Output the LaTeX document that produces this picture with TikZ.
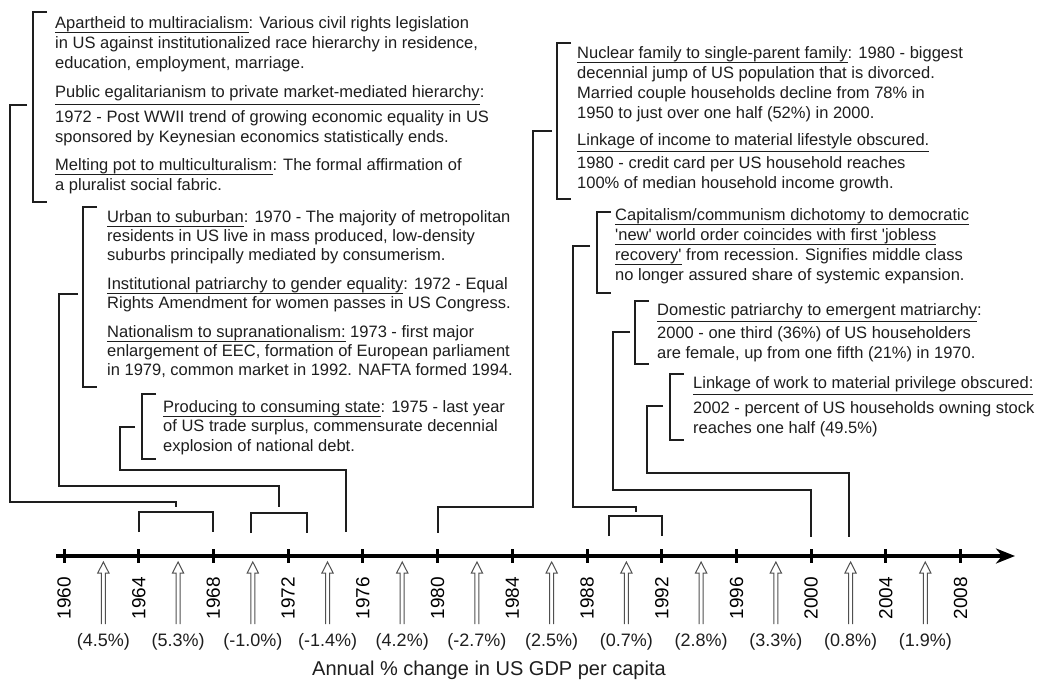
\documentclass[tikz,border=0pt]{standalone}
\usepackage{fontspec}
\setmainfont{Liberation Sans}
\usetikzlibrary{arrows.meta, calc}
\definecolor{inkgray}{RGB}{30, 30, 30}
\definecolor{arrowgray}{RGB}{80, 80, 80}
\newcommand{\ul}[2][4.5pt]{\sbox0{#2}\rlap{\rule[-#1]{\wd0}{1.1pt}}\usebox0}
\newcommand{\yrx}[1]{{64+(#1-1960)*18.68}}
\newcommand{\sq}{\textquotesingle}

\begin{document}
\begin{tikzpicture}[x=1pt, y=-1pt,
  grp/.style={anchor=north west, inner sep=0pt, align=left, text=inkgray, font=\fontsize{16.5}{20}\selectfont},
  brk/.style={line width=1.9pt, inkgray},
  lnk/.style={line width=1.9pt, inkgray},
  axisline/.style={line width=3.8pt, -{Stealth[length=19pt, width=15pt, inset=6pt]}},
  tickmark/.style={line width=3pt},
  hollow/.style={line width=1pt, arrowgray, line join=miter},
  yrlbl/.style={rotate=90, anchor=east, inner sep=0pt, font=\fontsize{19}{22}\selectfont},
  pct/.style={inner sep=0pt, text=inkgray, font=\fontsize{18}{22}\selectfont}]

  \fill[white] (0,0) rectangle (1039,682);
  \useasboundingbox (0,0) rectangle (1039,682);

  % Left text groups
  \node[grp] (grpA) at (55,16) {\ul{Apartheid to multiracialism}: Various civil rights legislation\\
    in US against institutionalized race hierarchy in residence,\\
    education, employment, marriage.\\[9pt]
    \ul[8pt]{Public egalitarianism to private market-mediated hierarchy}:\\[5pt]
    1972 - Post WWII trend of growing economic equality in US\\
    sponsored by Keynesian economics statistically ends.\\[8pt]
    \ul{Melting pot to multiculturalism}: The formal affirmation of\\
    a pluralist social fabric.};
  \node[grp, font=\fontsize{16.5}{19}\selectfont] (grpB) at (107,210) {\ul{Urban to suburban}: 1970 - The majority of metropolitan\\
    residents in US live in mass produced, low-density\\
    suburbs principally mediated by consumerism.\\[10pt]
    \ul{Institutional patriarchy to gender equality}: 1972 - Equal\\
    Rights Amendment for women passes in US Congress.\\[10pt]
    \ul{Nationalism to supranationalism:} 1973 - first major\\
    enlargement of EEC, formation of European parliament\\
    in 1979, common market in 1992. NAFTA formed 1994.};
  \node[grp, font=\fontsize{16.5}{19.5}\selectfont] (grpC) at (163,400) {\ul{Producing to consuming state}: 1975 - last year\\
    of US trade surplus, commensurate decennial\\
    explosion of national debt.};

  % Right text groups
  \node[grp] (grpD) at (577,46) {\ul{Nuclear family to single-parent family}: 1980 - biggest\\
    decennial jump of US population that is divorced.\\
    Married couple households decline from 78\% in\\
    1950 to just over one half (52\%) in 2000.\\[7pt]
    \ul[7pt]{Linkage of income to material lifestyle obscured.}\\[3pt]
    1980 - credit card per US household reaches\\
    100\% of median household income growth.};
  \node[grp] (grpE) at (615,208) {\ul{Capitalism/communism dichotomy to democratic}\\
    \ul{\sq new\sq{} world order coincides with first \sq jobless}\\
    \ul{recovery\sq} from recession. Signifies middle class\\
    no longer assured share of systemic expansion.};
  \node[grp] (grpF) at (657,303) {\ul[7pt]{Domestic patriarchy to emergent matriarchy}:\\[3pt]
    2000 - one third (36\%) of US householders\\
    are female, up from one fifth (21\%) in 1970.};
  \node[grp] (grpG) at (693,376) {\ul[7pt]{Linkage of work to material privilege obscured:}\\[5pt]
    2002 - percent of US households owning stock\\
    reaches one half (49.5\%)};

  % Brackets round the groups
  \draw[brk] ([xshift=-8pt, yshift=4pt]grpA.north west) -| ([xshift=-22pt, yshift=-8.5pt]grpA.south west) -- ++(14,0);
  \draw[brk] ([xshift=-10pt, yshift=3pt]grpB.north west) -| ([xshift=-24pt, yshift=-9.5pt]grpB.south west) -- ++(14,0);
  \draw[brk] ([xshift=-7pt, yshift=6pt]grpC.north west) -| ([xshift=-21pt, yshift=-4.5pt]grpC.south west) -- ++(14,0);
  \draw[brk] ([xshift=-6pt, yshift=3pt]grpD.north west) -| ([xshift=-20pt, yshift=-7.5pt]grpD.south west) -- ++(14,0);
  \draw[brk] ([xshift=-4pt, yshift=-4pt]grpE.north west) -| ([xshift=-18pt, yshift=-9.5pt]grpE.south west) -- ++(14,0);
  \draw[brk] ([xshift=-8pt, yshift=2pt]grpF.north west) -| ([xshift=-22pt, yshift=-2.5pt]grpF.south west) -- ++(14,0);
  \draw[brk] ([xshift=-9pt, yshift=2pt]grpG.north west) -| ([xshift=-23pt, yshift=-3.5pt]grpG.south west) -- ++(14,0);

  % Time axis
  \foreach \yr in {1960,...,2008} \coordinate (t\yr) at (\yrx{\yr},556);
  \coordinate (ax0) at (56,556);
  \coordinate (ax1) at (1015,556);
  \draw[axisline] (ax0) -- (ax1);
  \foreach \yr in {1960,1964,...,2008} {
    \draw[tickmark] ([yshift=7pt]t\yr) -- ([yshift=-7pt]t\yr);
    \node[yrlbl] (l\yr) at ([yshift=-21pt]t\yr) {\yr};
  }

  % GDP change arrows
  \foreach \yr/\pc in {1962/4.5, 1966/5.3, 1970/-1.0, 1974/-1.4, 1978/4.2, 1982/-2.7,
                       1986/2.5, 1990/0.7, 1994/2.8, 1998/3.3, 2002/0.8, 2006/1.9} {
    \draw[hollow] ([shift={(0,68)}]t\yr) -- ++(0,-51) -- ++(-3.6,0) -- ++(5.6,-11)
      -- ++(5.6,11) -- ++(-3.6,0) -- ++(0,51);
    \node[pct] (p\yr) at ([shift={(2,86)}]t\yr) {(\pc\%)};
  }
  \node[font=\fontsize{20}{24}\selectfont, text=inkgray] (ttl) at (489,670) {Annual \% change in US GDP per capita};

  % Spans on the axis
  \draw[lnk] ([shift={(0,-24)}]t1964) -- ++(0,-20) -| ([shift={(0,-24)}]t1968);
  \draw[lnk] ([shift={(0,-23)}]t1970) -- ++(0,-20) -| ([shift={(0,-23)}]t1973);
  \draw[lnk] ([shift={(3.7,-20)}]t1989) -- ++(0,-20) -| ([shift={(0,-20)}]t1992);

  % Connectors from groups to years
  \coordinate (jA) at (10,502);  \coordinate (mA) at (\yrx{1966},507);
  \coordinate (jB) at (59,486);  \coordinate (mB) at (\yrx{1971.5},507);
  \coordinate (jC) at (120,470); \coordinate (mC) at (\yrx{1975.1},532);
  \coordinate (jD) at (533,507); \coordinate (mD) at ([shift={(0,-23)}]t1980);
  \coordinate (jE) at (573,507); \coordinate (mE) at (\yrx{1990.6},512);
  \coordinate (jF) at (613,490); \coordinate (mF) at ([shift={(0,-19)}]t2000);
  \coordinate (jG) at (647,473); \coordinate (mG) at ([shift={(0,-19)}]t2002);
  \draw[lnk] ([xshift=-28pt]grpA.west) -| (jA) -| (mA);
  \draw[lnk] ([xshift=-29pt]grpB.west) -| (jB) -| (mB);
  \draw[lnk] ([xshift=-28pt]grpC.west) -| (jC) -| (mC);
  \draw[lnk] ([xshift=-25pt, yshift=-12pt]grpD.west) -| (jD) -| (mD);
  \draw[lnk] ([xshift=-25pt]grpE.west) -| (jE) -| (mE);
  \draw[lnk] ([xshift=-27pt]grpF.west) -| (jF) -| (mF);
  \draw[lnk] ([xshift=-30pt]grpG.west) -| (jG) -| (mG);
\end{tikzpicture}
\end{document}
